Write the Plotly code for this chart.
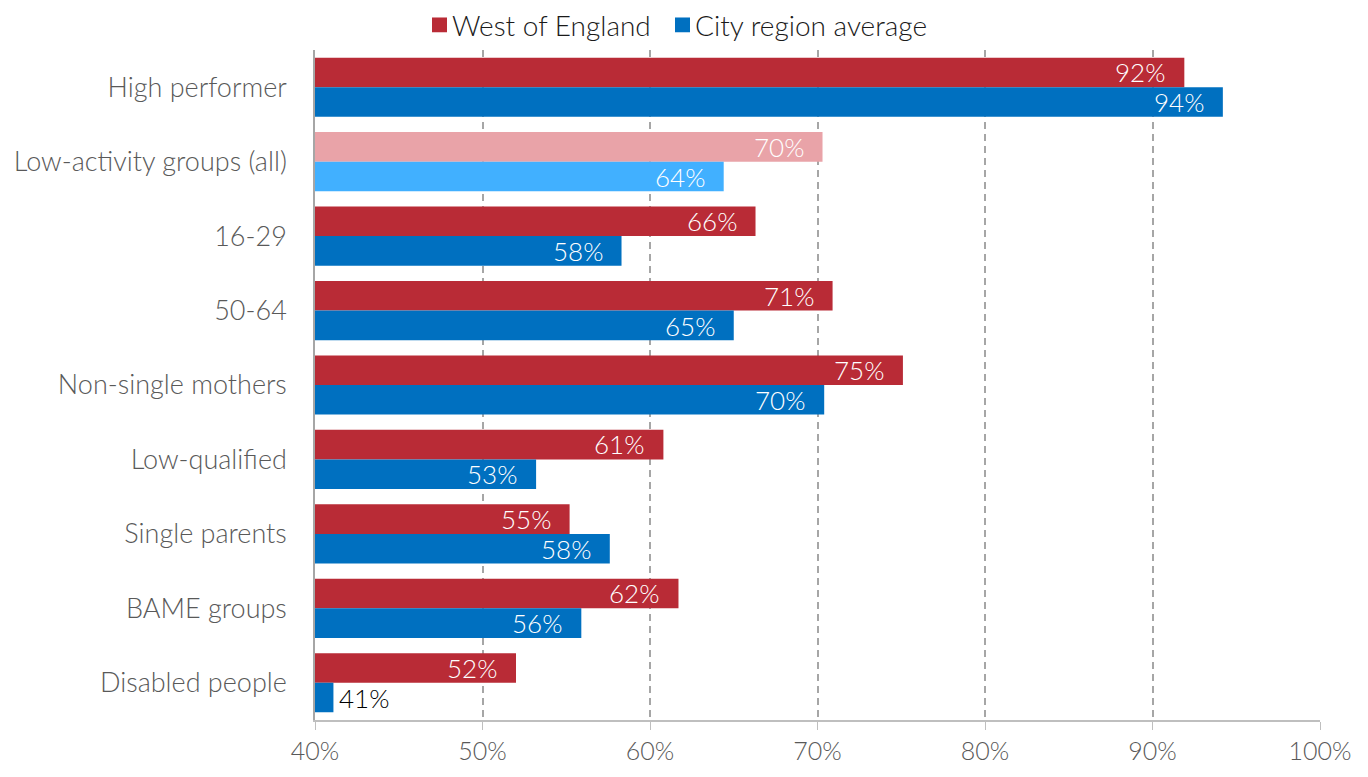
import plotly.graph_objects as go

# Share of each group in employment, West of England vs city region average
categories = [
    "High performer",
    "Low-activity groups (all)",
    "16-29",
    "50-64",
    "Non-single mothers",
    "Low-qualified",
    "Single parents",
    "BAME groups",
    "Disabled people",
]
west_of_england = [91.9, 70.3, 66.3, 70.9, 75.1, 60.8, 55.2, 61.7, 52.0]
city_region_avg = [94.2, 64.4, 58.3, 65.0, 70.4, 53.2, 57.6, 55.9, 41.1]

x_ticks = [40, 50, 60, 70, 80, 90, 100]
x_tick_labels = ["40%", "50%", "60%", "70%", "80%", "90%", "100%"]

RED, PINK = "#B92B36", "#E9A3A8"
BLUE, LIGHT_BLUE = "#0070C0", "#41B0FF"
FONT = "Lato"
WEIGHT = 300
W, H = 1368, 777
M_L, M_R, M_T, M_B = 315, 48, 50, 47
BARGAP = 0.205

def colours(main, light):
    return [light if c == "Low-activity groups (all)" else main for c in categories]

series = [
    ("West of England", west_of_england, RED, PINK),
    ("City region average", city_region_avg, BLUE, LIGHT_BLUE),
]

fig = go.Figure()
for name, vals, main, light in series:
    fig.add_trace(go.Bar(
        name=name,
        y=categories,
        x=vals,
        base=0,
        orientation="h",
        marker=dict(color=colours(main, light), line=dict(width=0)),
        showlegend=False,
        hovertemplate="%{y}: %{x:.1f}%<extra>" + name + "</extra>",
    ))

# Value labels at the end of each bar
plot_h = H - M_T - M_B
bar_px = plot_h / len(categories) * (1 - BARGAP) / 2
for i, (name, vals, main, light) in enumerate(series):
    shift = bar_px / 2 if i == 0 else -bar_px / 2
    for cat, v in zip(categories, vals):
        inside = v >= 45
        fig.add_annotation(
            x=v, y=cat, xref="x", yref="y",
            text=f"{v:.0f}%",
            showarrow=False,
            xanchor="right" if inside else "left",
            xshift=-17 if inside else 4,
            yshift=shift,
            font=dict(family=FONT, size=26, weight=WEIGHT,
                      color="white" if inside else "black"),
        )

# Legend drawn as square swatches with labels above the plot
def px_x(px):
    return (px - M_L) / (W - M_L - M_R)

def px_y(px):
    return (H - M_B - px) / plot_h

legend_items = [("West of England", RED, 432), ("City region average", BLUE, 675)]
for label, col, left in legend_items:
    fig.add_shape(
        type="rect", xref="paper", yref="paper",
        x0=px_x(left), x1=px_x(left + 15), y0=px_y(32), y1=px_y(17),
        fillcolor=col, line=dict(width=0),
    )
    fig.add_annotation(
        x=px_x(left + 18), y=px_y(24.5), xref="paper", yref="paper",
        text=label, showarrow=False, xanchor="left", yanchor="middle",
        font=dict(family=FONT, size=28, weight=WEIGHT, color="#1a1a1a"),
    )

fig.update_layout(
    width=W,
    height=H,
    margin=dict(l=M_L, r=M_R, t=M_T, b=M_B),
    barmode="group",
    bargap=BARGAP,
    bargroupgap=0,
    plot_bgcolor="white",
    paper_bgcolor="white",
    showlegend=False,
    font=dict(family=FONT, size=26, weight=WEIGHT, color="#595959"),
    xaxis=dict(
        range=[40, 100],
        tickvals=x_ticks,
        ticktext=x_tick_labels,
        showgrid=True,
        gridcolor="#A6A6A6",
        griddash="7px,5px",
        gridwidth=1.5,
        zeroline=False,
        showline=True,
        linecolor="#BFBFBF",
        linewidth=1.5,
        ticks="outside",
        ticklen=8,
        tickcolor="#BFBFBF",
        tickfont=dict(family=FONT, size=25, weight=WEIGHT, color="#595959"),
    ),
    yaxis=dict(
        autorange="reversed",
        showline=True,
        linecolor="#A6A6A6",
        linewidth=1.5,
        ticks="",
        ticklabelstandoff=21,
        tickfont=dict(family=FONT, size=27, weight=WEIGHT, color="#595959"),
    ),
)

fig.write_html("out.html")
